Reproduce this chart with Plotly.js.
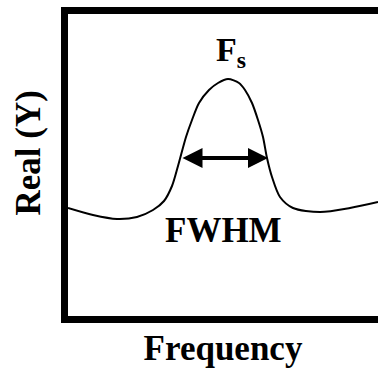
<!DOCTYPE html>
<html>
<head>
<meta charset="utf-8">
<script src="https://cdn.plot.ly/plotly-3.0.1.min.js"></script>
<style>html,body{margin:0;padding:0;background:#fff;}#chart{width:378px;height:369px;}</style>
</head>
<body>
<div id="chart"></div>
<script>
// Frequency (arbitrary units) and real part (arbitrary units)
var frequency = [0, 2.5, 4.9, 6.9, 8.5, 9.6, 10.4, 11.0, 11.8, 12.4, 13.1, 14.1, 15.0, 16.0, 17.1, 17.7, 18.4, 19.0, 19.5, 19.9, 20.4, 21.2, 22.5, 25.2, 28.2, 31.0];
var realY =     [10.8, 10.1, 9.7, 9.9, 10.6, 11.5, 13.0, 15.0, 17.9, 19.6, 21.3, 22.6, 23.3, 23.7, 23.3, 22.6, 21.3, 19.6, 17.9, 15.8, 13.9, 11.9, 10.8, 10.4, 10.8, 11.4];

// FWHM arrow ends (frequency) and level
var fwhmStart = 11.3;
var fwhmEnd = 20.0;
var fwhmLevel = 15.8;

// Label positions
var peakLabel = {text: 'F<sub>s</sub>', x: 16.3, y: 26.4};
var fwhmLabel = {text: 'FWHM', x: 15.55, y: 8.6};
var xTitle = 'Frequency';
var yTitle = 'Real (Y)';

var serif = 'Liberation Serif';

var trace = {
  x: frequency, y: realY, type: 'scatter', mode: 'lines',
  line: {color: '#000', width: 2, shape: 'spline', smoothing: 0.8},
  hoverinfo: 'skip'
};

var layout = {
  width: 378, height: 369,
  margin: {l: 68, r: 0, t: 14, b: 53, pad: 0},
  paper_bgcolor: '#fff', plot_bgcolor: '#fff',
  showlegend: false,
  xaxis: {
    range: [0, 31], showgrid: false, zeroline: false, showticklabels: false, ticks: '',
    showline: true, linecolor: '#000', linewidth: 7, mirror: true,
    title: {text: xTitle, font: {family: serif, size: 35, color: '#000', weight: 700}, standoff: 16},
    automargin: false, fixedrange: true
  },
  yaxis: {
    range: [0, 30.2], showgrid: false, zeroline: false, showticklabels: false, ticks: '',
    showline: true, linecolor: '#000', linewidth: 7, mirror: false,
    automargin: false, fixedrange: true
  },
  annotations: [
    {x: fwhmEnd, y: fwhmLevel, ax: fwhmStart, ay: fwhmLevel, xref: 'x', yref: 'y', axref: 'x', ayref: 'y',
     text: '', showarrow: true, arrowhead: 2, startarrowhead: 2, arrowside: 'end+start',
     arrowwidth: 4, arrowsize: 1, startarrowsize: 1, arrowcolor: '#000', standoff: 0, startstandoff: 0},
    {x: peakLabel.x, y: peakLabel.y, xref: 'x', yref: 'y', text: peakLabel.text, showarrow: false,
     font: {family: serif, size: 34, color: '#000', weight: 700}},
    {x: fwhmLabel.x, y: fwhmLabel.y, xref: 'x', yref: 'y', text: fwhmLabel.text, showarrow: false,
     font: {family: serif, size: 35, color: '#000', weight: 700}},
    {x: 0, y: 0, xref: 'paper', yref: 'paper', text: yTitle, showarrow: false, textangle: -90,
     xanchor: 'center', yanchor: 'middle',
     font: {family: serif, size: 35, color: '#000', weight: 700}}
  ]
};
// y-title placed in pixel terms: convert to paper coordinates
var plotW = 378 - 68, plotH = 369 - 14 - 53;
layout.annotations[3].x = (27.5 - 68) / plotW;
layout.annotations[3].y = (316 - 153) / plotH;

Plotly.newPlot('chart', [trace], layout, {displayModeBar: false, staticPlot: true});
</script>
</body>
</html>
